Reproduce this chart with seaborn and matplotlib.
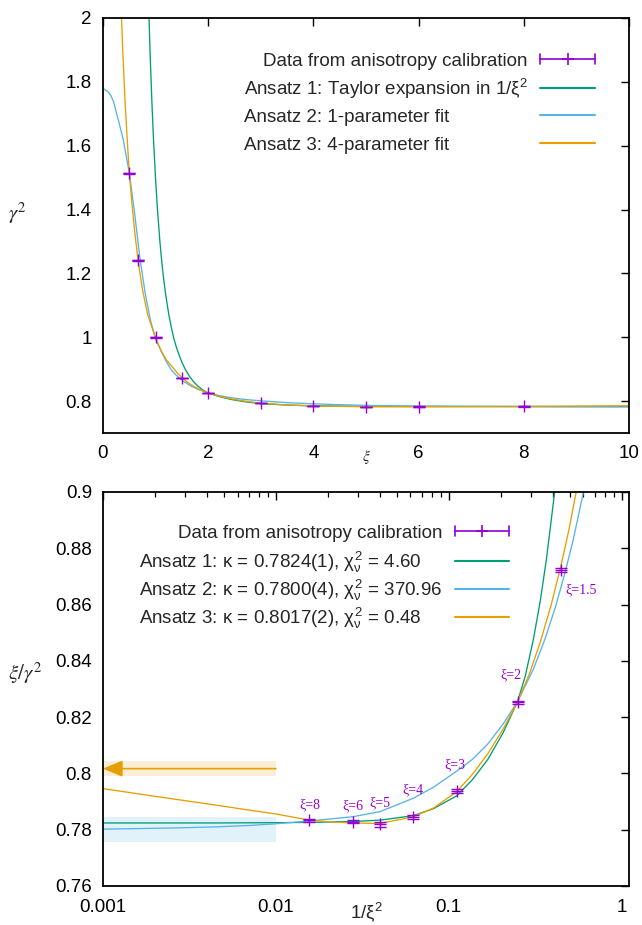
import numpy as np
import pandas as pd
import matplotlib
matplotlib.use("Agg")
import matplotlib.pyplot as plt
import seaborn as sns
from matplotlib.legend import Legend
from matplotlib.legend_handler import HandlerBase
from matplotlib.lines import Line2D

# ---------------- data ----------------
xi_data = [0.5, 0.667, 1.0, 1.5, 2.0, 3.0, 4.0, 5.0, 6.0, 8.0]
gamma2_data = [1.513, 1.241, 1.0, 0.8722, 0.8253, 0.7937, 0.7845, 0.7819, 0.7828, 0.7834]
gamma2_err = [0.003, 0.002, 0.0012, 0.0008, 0.0006, 0.0008, 0.0008, 0.0009, 0.0005, 0.0005]

label_xi = [1.5, 2.0, 3.0, 4.0, 5.0, 6.0, 8.0]
label_text = ["ξ=1.5", "ξ=2", "ξ=3", "ξ=4", "ξ=5", "ξ=6", "ξ=8"]

# Ansatz 1 (Taylor expansion in 1/xi^2)
xi_a1 = [0.86, 0.875, 0.9, 0.93, 0.96, 1.0, 1.04, 1.08, 1.12, 1.16, 1.2, 1.25, 1.3, 1.35,
         1.4, 1.45, 1.5, 1.57, 1.65, 1.72, 1.8, 1.9, 2.0, 2.2, 2.44, 2.7, 3.0, 3.5, 4.0,
         5.0, 6.0, 8.0, 10.0, 15.0, 31.62]
g2_a1 = [2.085, 1.998, 1.868, 1.735, 1.62, 1.494, 1.389, 1.303, 1.232, 1.173, 1.124, 1.072,
         1.03, 0.994, 0.966, 0.943, 0.9216, 0.8976, 0.876, 0.861, 0.8475, 0.8345, 0.8255,
         0.8145, 0.8049, 0.7978, 0.792, 0.7875, 0.785, 0.7834, 0.7829, 0.7826, 0.7825,
         0.7824, 0.7824]

# Ansatz 2 (1-parameter fit)
xi_a2 = [0.0, 0.1, 0.15, 0.2, 0.26, 0.3, 0.386, 0.45, 0.5, 0.6, 0.7, 0.8, 0.9, 1.0, 1.1,
         1.2, 1.294, 1.38, 1.457, 1.55, 1.666, 1.8, 2.0, 2.2, 2.44, 2.7, 3.0, 3.5, 4.0, 5.0,
         6.0, 8.0, 10.0, 12.0, 15.0, 20.0, 31.62]
g2_a2 = [1.78, 1.768, 1.757, 1.738, 1.70, 1.675, 1.618, 1.56, 1.515, 1.39, 1.25, 1.14,
         1.055, 0.995, 0.958, 0.925, 0.899, 0.883, 0.8714, 0.8595, 0.8477, 0.8370, 0.8255,
         0.8176, 0.8104, 0.8050, 0.8008, 0.7951, 0.7912, 0.7864, 0.7846, 0.7831, 0.7821,
         0.7815, 0.7810, 0.7806, 0.7802]

# Ansatz 3 (4-parameter fit)
xi_a3 = [0.345, 0.352, 0.38, 0.418, 0.46, 0.5, 0.55, 0.6, 0.667, 0.75, 0.85, 1.0, 1.1, 1.2,
         1.347, 1.42, 1.5, 1.6, 1.72, 1.85, 2.0, 2.2, 2.44, 2.7, 3.0, 3.5, 4.0, 5.0, 6.0, 7.0,
         8.0, 10.0, 12.0, 15.0, 20.0, 31.62]
g2_a3 = [2.04, 2.0, 1.88, 1.743, 1.62, 1.515, 1.42, 1.335, 1.24, 1.15, 1.07, 0.998, 0.96,
         0.93, 0.9013, 0.8866, 0.8734, 0.8597, 0.8465, 0.8352, 0.8253, 0.8158, 0.8069,
         0.7997, 0.7935, 0.7877, 0.7846, 0.7822, 0.7824, 0.7828, 0.7834, 0.7856, 0.7870,
         0.7888, 0.7910, 0.7946]

# continuum values and their bands (bottom panel)
kappa2, kappa2_band = 0.7800, 0.0045
kappa3, kappa3_band = 0.8017, 0.0026
band_x = [0.001, 0.01]

top_labels = ["Data from anisotropy calibration",
              "Ansatz 1: Taylor expansion in 1/ξ$^2$",
              "Ansatz 2: 1-parameter fit",
              "Ansatz 3: 4-parameter fit"]
bot_labels = ["Data from anisotropy calibration",
              "Ansatz 1: κ = 0.7824(1), $\\chi^2_\\nu$ = 4.60",
              "Ansatz 2: κ = 0.7800(4), $\\chi^2_\\nu$ = 370.96",
              "Ansatz 3: κ = 0.8017(2), $\\chi^2_\\nu$ = 0.48"]

# ---------------- styling ----------------
PURPLE, GREEN, BLUE, ORANGE = "#9400d3", "#009e73", "#56b4e9", "#e69f00"

sns.set_style("white")
plt.rcParams["font.family"] = ["Liberation Sans", "DejaVu Sans"]
plt.rcParams["mathtext.fontset"] = "custom"
plt.rcParams["mathtext.rm"] = "Liberation Sans"
plt.rcParams["mathtext.it"] = "Liberation Sans"
plt.rcParams["mathtext.sf"] = "Liberation Sans"
plt.rcParams["mathtext.bf"] = "Liberation Sans:bold"
FS = 13.5

curves = pd.concat([
    pd.DataFrame({"xi": xi_a1, "g2": g2_a1, "ansatz": "A1"}),
    pd.DataFrame({"xi": xi_a2, "g2": g2_a2, "ansatz": "A2"}),
    pd.DataFrame({"xi": xi_a3, "g2": g2_a3, "ansatz": "A3"}),
], ignore_index=True)
palette = {"A1": GREEN, "A2": BLUE, "A3": ORANGE}
data = pd.DataFrame({"xi": xi_data, "g2": gamma2_data, "err": gamma2_err})
data["inv"] = 1.0 / data["xi"] ** 2
pos = curves[curves["xi"] > 0].copy()
pos["inv"] = 1.0 / pos["xi"] ** 2


class ErrHandler(HandlerBase):
    def create_artists(self, legend, orig_handle, xdescent, ydescent, width, height,
                       fontsize, trans):
        y = height / 2 - ydescent
        x0, x1 = -xdescent, -xdescent + width
        c = PURPLE
        h = 0.75 * height
        arts = [Line2D([x0, x1], [y, y], color=c, lw=1.2),
                Line2D([x0, x0], [y - h / 2, y + h / 2], color=c, lw=1.2),
                Line2D([x1, x1], [y - h / 2, y + h / 2], color=c, lw=1.2),
                Line2D([(x0 + x1) / 2], [y], marker="+", ms=8, mew=1.2, color=c, lw=0)]
        for a in arts:
            a.set_transform(trans)
        return arts


def handles():
    dh = Line2D([], [], color=PURPLE)
    return [dh, Line2D([], [], color=GREEN, lw=1.5), Line2D([], [], color=BLUE, lw=1.5),
            Line2D([], [], color=ORANGE, lw=1.5)], {dh: ErrHandler()}


def style_axes(ax):
    for s in ax.spines.values():
        s.set_linewidth(1.3)
        s.set_color("black")
    ax.tick_params(which="both", direction="in", top=True, right=True, colors="black",
                   labelsize=FS)
    ax.tick_params(which="major", length=6, width=1.0)
    ax.tick_params(which="minor", length=3.5, width=0.9)
    ax.tick_params(axis="y", pad=8)
    ax.tick_params(axis="x", pad=9)


def legend_rows(ax, labels, x_right, ys):
    """one Legend per key row (gnuplot-like key: text, then sample at the right)"""
    hs, hm = handles()
    out = []
    for h, lab, y in zip(hs, labels, ys):
        lg = Legend(ax, [h], [lab], handler_map=hm, loc="center right",
                    bbox_to_anchor=(x_right, y), bbox_transform=ax.transAxes,
                    markerfirst=False, frameon=False, fontsize=FS, handlelength=2.9,
                    handletextpad=0.67, borderpad=0, borderaxespad=0)
        ax.add_artist(lg)
        out.append(lg)
    return out


fig = plt.figure(figsize=(6.42, 9.25), dpi=100)
ax1 = fig.add_axes([103 / 642, 1 - 433 / 925, 526 / 642, 415 / 925])
ax2 = fig.add_axes([103 / 642, 1 - 886 / 925, 526 / 642, 394 / 925])

# ---------------- top panel ----------------
sns.lineplot(data=curves, x="xi", y="g2", hue="ansatz", palette=palette, sort=False,
             estimator=None, lw=0.95, legend=False, ax=ax1)
ax1.errorbar(data["xi"], data["g2"], yerr=data["err"], fmt="+", color=PURPLE, ms=8,
             mew=1.0, elinewidth=0.9, capsize=4, capthick=0.9, zorder=5)
ax1.set_xlim(0, 10)
ax1.set_ylim(0.7, 2.0)
ax1.set_xticks([0, 2, 4, 6, 8, 10])
ax1.set_xticklabels(["0", "2", "4", "6", "8", "10"])
ax1.set_yticks([0.8, 1.0, 1.2, 1.4, 1.6, 1.8, 2.0])
ax1.set_yticklabels(["0.8", "1", "1.2", "1.4", "1.6", "1.8", "2"])
style_axes(ax1)
ax1.set_xlabel(r"$\xi$", fontsize=11, math_fontfamily="stix")
ax1.xaxis.set_label_coords(0.5, -0.037)
ax1.set_ylabel(r"$\gamma^2$", fontsize=15, math_fontfamily="stix", rotation=0,
               ha="center", va="center")
ax1.yaxis.set_label_coords(-0.163, 0.53)
top_rows = legend_rows(ax1, top_labels, 0.935, [0.8964, 0.8289, 0.7614, 0.6940])

# ---------------- bottom panel ----------------
ax2.set_xscale("log")
ax2.fill_between(band_x, kappa3 - kappa3_band, kappa3 + kappa3_band, color=ORANGE,
                 alpha=0.17, lw=0, zorder=1)
ax2.fill_between(band_x, kappa2 - kappa2_band, kappa2 + kappa2_band, color=BLUE,
                 alpha=0.17, lw=0, zorder=1)
sns.lineplot(data=pos, x="inv", y="g2", hue="ansatz", palette=palette, sort=False,
             estimator=None, lw=0.95, legend=False, ax=ax2)
ax2.annotate("", xy=(band_x[0], kappa3), xytext=(band_x[1], kappa3),
             arrowprops=dict(arrowstyle="-|>,head_length=0.6,head_width=0.25",
                             color=ORANGE, lw=1.2, mutation_scale=20,
                             shrinkA=0, shrinkB=0), zorder=3)
ax2.errorbar(data["inv"], data["g2"], yerr=data["err"], fmt="+", color=PURPLE, ms=8,
             mew=1.0, elinewidth=0.9, capsize=4, capthick=0.9, zorder=5)
label_offsets = [(20, -20), (-7, 27), (-2, 26), (0, 27), (0, 22), (0, 16), (1, 15)]
for xv, txt, off in zip(label_xi, label_text, label_offsets):
    yv = gamma2_data[xi_data.index(xv)]
    ax2.annotate(txt, xy=(1 / xv ** 2, yv), xytext=off, textcoords="offset pixels",
                 ha="center", va="center", color=PURPLE, fontsize=10,
                 family=["Liberation Serif", "DejaVu Serif"])
ax2.set_xlim(0.001, 1.104)
ax2.set_ylim(0.76, 0.9)
ax2.set_xticks([0.001, 0.01, 0.1, 1])
ax2.set_xticklabels(["0.001", "0.01", "0.1", "1"])
ax2.set_yticks([0.76, 0.78, 0.80, 0.82, 0.84, 0.86, 0.88, 0.90])
ax2.set_yticklabels(["0.76", "0.78", "0.8", "0.82", "0.84", "0.86", "0.88", "0.9"])
style_axes(ax2)
ax2.set_xlabel("1/ξ$^2$", fontsize=FS)
ax2.xaxis.set_label_coords(0.5, -0.036)
ax2.set_ylabel(r"$\xi/\gamma^2$", fontsize=15, math_fontfamily="stix", rotation=0,
               ha="center", va="center")
ax2.yaxis.set_label_coords(-0.148, 0.54)
bot_rows = legend_rows(ax2, bot_labels, 0.772, [0.8959, 0.8223, 0.7513, 0.6802])

# left-justify the Ansatz rows: same row width, text at left, sample at right
fig.canvas.draw()
renderer = fig.canvas.get_renderer()
for rows in (top_rows, bot_rows):
    boxes = [lg._legend_handle_box.get_children()[0].get_children()[0] for lg in rows]
    wmax = max(b.get_bbox(renderer).width for b in boxes[1:])
    for b in boxes[1:]:
        b.mode = "expand"
        b.width = wmax

fig.savefig("out.png", dpi=100)
